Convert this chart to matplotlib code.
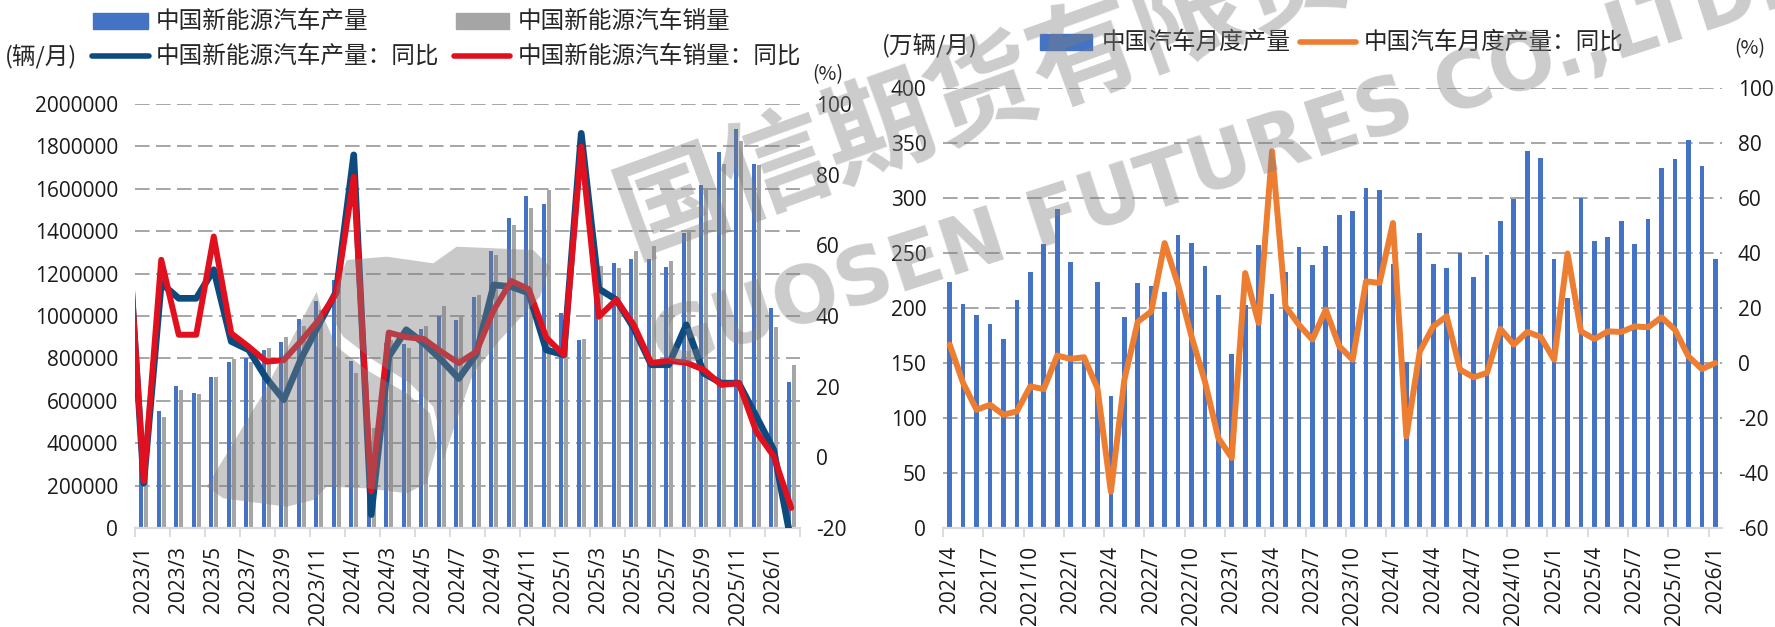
import numpy as np
import matplotlib
matplotlib.use('Agg')
import matplotlib.pyplot as plt
from matplotlib.patches import Rectangle, Polygon
from matplotlib.lines import Line2D

W, H = 1775, 627
CJK = ['Noto Sans CJK SC', 'DejaVu Sans']
NUM = ['Open Sans', 'Noto Sans CJK SC', 'DejaVu Sans']
plt.rcParams['font.family'] = NUM

# ---------------- data: left chart (China NEV, 辆/月) ----------------
nev_months = ['2023/1', '2023/2', '2023/3', '2023/4', '2023/5', '2023/6', '2023/7', '2023/8',
              '2023/9', '2023/10', '2023/11', '2023/12',
              '2024/1', '2024/2', '2024/3', '2024/4', '2024/5', '2024/6', '2024/7', '2024/8',
              '2024/9', '2024/10', '2024/11', '2024/12',
              '2025/1', '2025/2', '2025/3', '2025/4', '2025/5', '2025/6', '2025/7', '2025/8',
              '2025/9', '2025/10', '2025/11', '2025/12',
              '2026/1', '2026/2']
nev_prod = [425000, 550000, 671000, 638000, 714000, 785000, 804000, 841000, 877000, 987000,
            1071000, 1170000, 786000, 465000, 875000, 870000, 941000, 1001000, 982000, 1089000,
            1307000, 1464000, 1566000, 1529000, 1016000, 888000, 1277000, 1252000, 1269000,
            1269000, 1232000, 1393000, 1618000, 1775000, 1880000, 1717000, 1037000, 691000]
nev_sales = [408000, 524000, 652000, 633000, 714000, 797000, 781000, 847000, 903000, 954000,
             1026000, 1191000, 730000, 473000, 886000, 851000, 954000, 1048000, 994000, 1100000,
             1288000, 1430000, 1511000, 1595000, 944000, 892000, 1236000, 1228000, 1307000,
             1331000, 1260000, 1395000, 1602000, 1717000, 1826000, 1712000, 946000, 767000]
# YoY series start one month earlier (2022/12), that point lies left of the plot edge
yoy_months = ['2022/12'] + nev_months
nev_prod_yoy = [72, -7.3, 49.3, 45.0, 45.0, 53.1, 32.8, 30.4, 22.4, 16.3, 28.0, 37.5, 46.9,
                85.6, -16.2, 28.5, 36.1, 32.3, 27.6, 22.3, 29.2, 48.8, 48.3, 46.5, 30.4, 29.0,
                91.7, 47.7, 44.6, 36.6, 26.2, 26.2, 37.5, 23.8, 21.0, 21.0, 11.6, 2.1, -24.0]
nev_sales_yoy = [73, -6.8, 55.9, 34.7, 34.7, 62.5, 35.1, 31.3, 27.1, 27.5, 33.0, 38.9, 46.4,
                 79.4, -9.6, 35.3, 34.0, 33.5, 29.9, 26.7, 29.9, 41.7, 49.9, 47.6, 33.9, 29.0,
                 87.9, 39.8, 44.6, 37.5, 26.7, 27.3, 26.8, 24.8, 20.5, 21.0, 7.3, 0.3, -14.3]
nev_ticks_left = [0, 200000, 400000, 600000, 800000, 1000000, 1200000, 1400000, 1600000,
                  1800000, 2000000]
nev_ticks_right = [-20, 0, 20, 40, 60, 80, 100]

# ---------------- data: right chart (China auto output, 万辆/月) ----------------
car_months = ['2021/4', '2021/5', '2021/6', '2021/7', '2021/8', '2021/9', '2021/10', '2021/11',
              '2021/12',
              '2022/1', '2022/2', '2022/3', '2022/4', '2022/5', '2022/6', '2022/7', '2022/8',
              '2022/9', '2022/10', '2022/11', '2022/12',
              '2023/1', '2023/2', '2023/3', '2023/4', '2023/5', '2023/6', '2023/7', '2023/8',
              '2023/9', '2023/10', '2023/11', '2023/12',
              '2024/1', '2024/2', '2024/3', '2024/4', '2024/5', '2024/6', '2024/7', '2024/8',
              '2024/9', '2024/10', '2024/11', '2024/12',
              '2025/1', '2025/2', '2025/3', '2025/4', '2025/5', '2025/6', '2025/7', '2025/8',
              '2025/9', '2025/10', '2025/11', '2025/12',
              '2026/1']
car_prod = [223.3, 204.0, 194.0, 185.8, 172.1, 207.6, 233.0, 258.5, 290.3,
            242.1, 153.0, 223.9, 120.3, 192.1, 222.9, 220.3, 214.8, 266.7, 259.4, 238.5, 212.1,
            158.5, 203.0, 257.6, 213.0, 233.0, 255.8, 239.4, 256.7, 284.8, 288.5, 309.1, 307.6,
            240.3, 150.6, 268.2, 240.3, 236.4, 250.0, 228.2, 248.5, 279.1, 299.4, 343.0, 336.4,
            244.5, 209.1, 300.0, 260.9, 264.5, 279.1, 258.2, 280.9, 327.3, 335.5, 353.0, 329.4,
            244.5]
car_prod_yoy = [6.7, -7.3, -17.0, -15.2, -18.8, -17.6, -8.5, -9.5, 2.7,
                1.5, 2.1, -9.2, -46.8, -6.2, 15.0, 18.7, 43.6, 28.5, 9.7, -6.7, -27.3,
                -34.5, 32.7, 14.5, 77.0, 20.6, 13.9, 8.5, 19.4, 6.1, 1.2, 29.7, 29.1,
                50.9, -26.7, 4.2, 13.3, 17.0, -2.4, -5.2, -3.6, 12.4, 6.7, 11.3, 9.5,
                1.2, 39.8, 11.5, 8.7, 11.5, 11.3, 13.3, 13.0, 16.6, 12.1, 2.4, -2.2,
                0.0]
car_ticks_left = [0, 50, 100, 150, 200, 250, 300, 350, 400]
car_ticks_right = [-60, -40, -20, 0, 20, 40, 60, 80, 100]

# ---------------- styling ----------------
C_BLUE = '#4472C4'
C_GREY = '#A5A5A5'
C_NAVY = '#0D4A7E'
C_RED = '#E0101E'
C_ORANGE = '#ED7D31'
C_GRID = '#A6A6A6'
C_AXIS = '#D9D9D9'
C_TEXT = '#1A1A1A'

fig = plt.figure(figsize=(W / 100, H / 100), dpi=100)


def frac_box(x0, y0, x1, y1):
    return [x0 / W, 1 - y1 / H, (x1 - x0) / W, (y1 - y0) / H]


def style_axes(ax, twin, n, label_step, ticks_l, ticks_r, labels):
    for a in (ax, twin):
        for s in ('top', 'left', 'right', 'bottom'):
            a.spines[s].set_visible(False)
    ax.spines['bottom'].set_visible(True)
    ax.spines['bottom'].set_color(C_AXIS)
    ax.spines['bottom'].set_linewidth(1.6)
    ax.set_xlim(-0.5, n - 0.5)
    ax.set_yticks(ticks_l)
    ax.set_yticklabels([str(t) for t in ticks_l])
    ax.set_ylim(ticks_l[0], ticks_l[-1])
    twin.set_yticks(ticks_r)
    twin.set_yticklabels([str(t) for t in ticks_r])
    twin.set_ylim(ticks_r[0], ticks_r[-1])
    ax.tick_params(axis='y', length=0, pad=12, labelsize=15, labelcolor=C_TEXT)
    twin.tick_params(axis='y', length=0, pad=11.5, labelsize=15, labelcolor=C_TEXT)
    pos = np.arange(0, n, label_step)
    ax.set_xticks(pos)
    ax.set_xticklabels([labels[i] for i in pos], rotation=90, ha='center', va='top')
    ax.set_xticks(np.arange(-0.5, n, label_step), minor=True)
    ax.tick_params(axis='x', which='major', length=0, pad=13, labelsize=15, labelcolor=C_TEXT)
    ax.tick_params(axis='x', which='minor', length=6.5, width=1.3, color=C_AXIS)
    ax.yaxis.grid(True, color=C_GRID, linewidth=1.4, linestyle=(0, (7.5, 3.3)))
    ax.set_axisbelow(True)
    twin.set_xlim(-0.5, n - 0.5)


# ---- left chart ----
ax1 = fig.add_axes(frac_box(135, 104, 800, 528))
ax1b = ax1.twinx()
x1 = np.arange(len(nev_months))
ax1.bar(x1 - 0.14, nev_prod, width=0.24, color=C_BLUE, zorder=2)
ax1.bar(x1 + 0.14, nev_sales, width=0.24, color=C_GREY, zorder=2)
xl = np.arange(len(yoy_months)) - 1
ax1b.plot(xl, nev_prod_yoy, color=C_NAVY, lw=4.8, solid_joinstyle='round',
          solid_capstyle='round')
ax1b.plot(xl, nev_sales_yoy, color=C_RED, lw=4.3, solid_joinstyle='round',
          solid_capstyle='round')
style_axes(ax1, ax1b, len(nev_months), 2, nev_ticks_left, nev_ticks_right, nev_months)

# ---- right chart ----
ax2 = fig.add_axes(frac_box(943, 88, 1722, 528))
ax2b = ax2.twinx()
x2 = np.arange(len(car_months))
ax2.bar(x2, car_prod, width=0.35, color=C_BLUE, zorder=2)
ax2b.plot(x2, car_prod_yoy, color=C_ORANGE, lw=4.3, solid_joinstyle='round',
          solid_capstyle='round')
style_axes(ax2, ax2b, len(car_months), 3, car_ticks_left, car_ticks_right, car_months)


# ---------------- legends / unit labels (figure pixel positions) ----------------
def fx(x):
    return x / W


def fy(y):
    return 1 - y / H


def key_patch(x0, x1, yc, h, color):
    fig.patches.append(Rectangle((fx(x0), fy(yc + h / 2)), (x1 - x0) / W, h / H,
                                 transform=fig.transFigure, color=color, zorder=4))


def key_line(x0, x1, yc, color, lw):
    fig.lines.append(Line2D([fx(x0), fx(x1)], [fy(yc), fy(yc)], transform=fig.transFigure,
                            color=color, lw=lw, solid_capstyle='round', zorder=4))


def label(x, yc, s, size=17, ha='left'):
    fig.text(fx(x), fy(yc), s, ha=ha, va='center', fontsize=size, family=CJK, color='#262626')


# left legend
key_patch(93, 148, 21, 15, C_BLUE)
label(156, 21, '中国新能源汽车产量')
key_patch(456, 509, 21, 15, C_GREY)
label(518, 21, '中国新能源汽车销量')
label(5, 57, '(辆/月)')
key_line(92, 149, 56, C_NAVY, 4.0)
label(156, 56, '中国新能源汽车产量：同比')
key_line(454, 510, 56, C_RED, 4.0)
label(518, 56, '中国新能源汽车销量：同比')
label(828, 75, '(%)', size=14, ha='center')

# right legend
label(882, 46, '(万辆/月)')
key_patch(1040, 1092, 42, 16, C_BLUE)
label(1102, 42, '中国汽车月度产量')
key_line(1300, 1356, 42, C_ORANGE, 4.0)
label(1364, 42, '中国汽车月度产量：同比')
label(1750, 49, '(%)', size=14, ha='center')

# ---------------- watermark ----------------
WM = '#7F7F7F'
fig.text(fx(622), fy(224), '国信期货有限责任公司', rotation=20, rotation_mode='anchor',
         ha='left', va='center', fontsize=79, fontweight='bold', family=CJK,
         color=WM, alpha=0.4, zorder=10)
fig.text(fx(655), fy(350), 'GUOSEN FUTURES CO.,LTD.', rotation=18, rotation_mode='anchor',
         ha='left', va='center', fontsize=56, fontweight='bold', family=['DejaVu Sans'],
         color=WM, alpha=0.4, zorder=10)
logo_a = [(206.7, 486.7), (263.3, 393.3), (316.7, 291.7), (323.3, 316.7), (336.7, 346.7),
          (366.7, 370), (406.7, 393.3), (430, 413.3), (436.7, 446.7), (426.7, 483.3),
          (406.7, 493.3), (366.7, 488.3), (326.7, 486.7), (313.3, 500), (286.7, 506.7),
          (223.3, 498.3)]
logo_b = [(346.7, 260), (386.7, 256.7), (433.3, 263.3), (456.7, 246.7), (533.3, 250),
          (550, 266.7), (540, 296.7), (500, 340), (473.3, 373.3), (456.7, 420), (443.3, 460),
          (440, 433.3), (433.3, 406.7), (410, 383.3), (373.3, 360), (343.3, 336.7),
          (333.3, 320), (336.7, 286.7)]
for poly in (logo_a, logo_b):
    fig.patches.append(Polygon([(fx(a), fy(b)) for a, b in poly], closed=True,
                               transform=fig.transFigure, facecolor=WM, edgecolor='none',
                               alpha=0.42, zorder=9))

fig.savefig('out.png', dpi=100)
